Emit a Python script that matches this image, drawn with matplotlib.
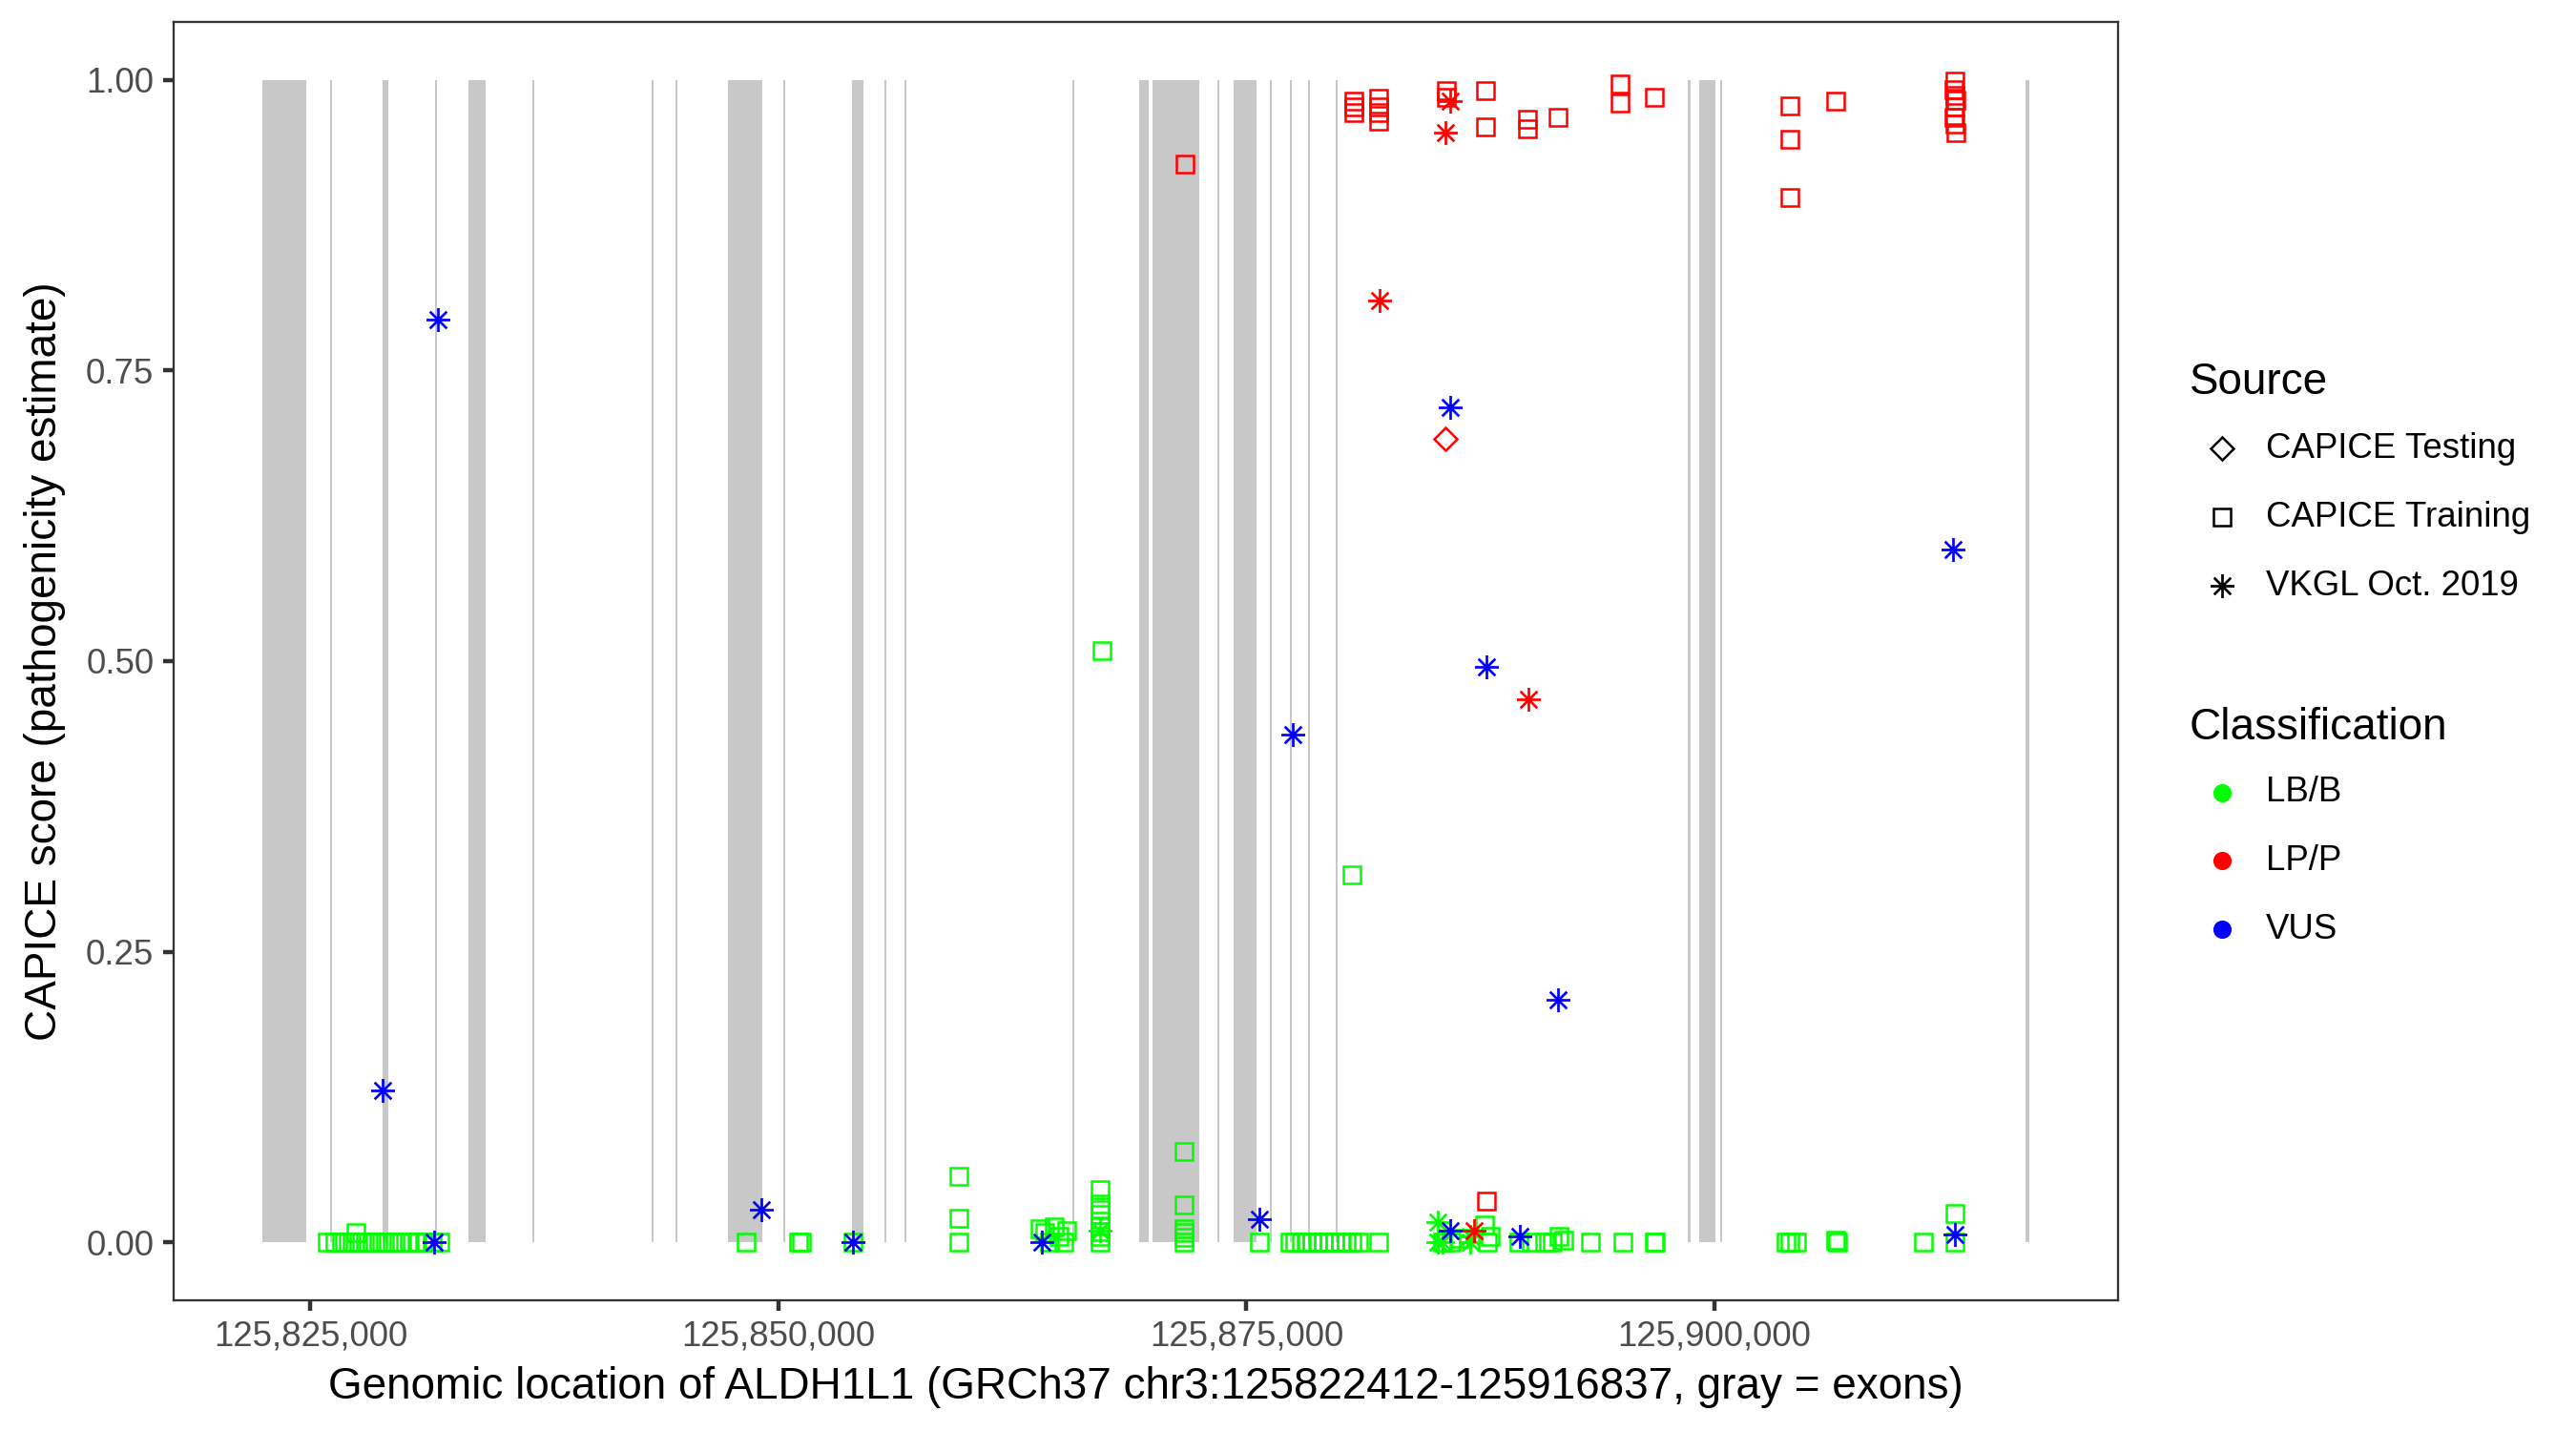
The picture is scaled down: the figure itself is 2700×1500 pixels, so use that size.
import numpy as np
import matplotlib
matplotlib.use("Agg")
import matplotlib.pyplot as plt
from matplotlib.path import Path
from matplotlib.ticker import FuncFormatter

plt.rcParams['font.family'] = ['Liberation Sans', 'DejaVu Sans']

# gene and exons (GRCh37 chr3)
gene_start = 125822412
gene_end = 125916837
exon_start = [125822412, 125826040, 125828830, 125831670, 125833439, 125836850,
              125843230, 125844500, 125847290, 125850270, 125853944, 125855670,
              125856740, 125865690, 125869291, 125869973, 125873450, 125874291,
              125876240, 125877310, 125878290, 125879760, 125898550, 125899196,
              125900310, 125916620]
exon_end = [125824786, 125826130, 125829146, 125831760, 125834370, 125836940,
            125843320, 125844590, 125849157, 125850360, 125854554, 125855760,
            125856830, 125865780, 125869794, 125872465, 125873540, 125875548,
            125876330, 125877400, 125878380, 125879850, 125898720, 125900030,
            125900400, 125916837]

# CAPICE Training, LB/B
train_lbb_pos = [125825921, 125826328, 125826684, 125827040, 125827396, 125827450,
                 125827752, 125828108, 125828464, 125828820, 125829177, 125829533,
                 125829889, 125830295, 125830702, 125831109, 125831516, 125831923,
                 125848267, 125851100, 125851250, 125853964, 125859641, 125859641,
                 125859641, 125863970, 125864224, 125864479, 125864733, 125864988,
                 125865242, 125865394, 125867175, 125867175, 125867175, 125867175,
                 125867175, 125867175, 125867175, 125867175, 125867302, 125871677,
                 125871677, 125871677, 125871677, 125871677, 125871677, 125875670,
                 125877298, 125877600, 125877910, 125878210, 125878520, 125878820,
                 125879130, 125879430, 125879740, 125880040, 125880350, 125880650,
                 125881010, 125880616, 125882054, 125885487, 125885945, 125886352,
                 125887726, 125887878, 125888031, 125889552, 125890233, 125890930,
                 125891337, 125891693, 125891947, 125893367, 125895111, 125896780,
                 125896850, 125903800, 125904054, 125904410, 125906496, 125906598,
                 125911155, 125912870, 125912870]
train_lbb_score = [0, 0, 0, 0, 0, 0.008,
                   0, 0, 0, 0, 0, 0,
                   0, 0, 0, 0, 0, 0,
                   0, 0, 0, 0, 0.057, 0.021,
                   0, 0.012, 0.008, 0, 0.013, 0.005,
                   0, 0.010, 0.045, 0.033, 0.028, 0.024,
                   0.014, 0.009, 0.005, 0, 0.509, 0.078,
                   0.032, 0.012, 0.008, 0.004, 0, 0,
                   0, 0, 0, 0, 0, 0,
                   0, 0, 0, 0, 0, 0,
                   0, 0.316, 0, 0, 0, 0.003,
                   0.015, 0, 0.005, 0, 0, 0,
                   0, 0.005, 0.002, 0, 0, 0,
                   0, 0, 0, 0, 0.002, 0,
                   0, 0.025, 0]

# CAPICE Training, LP/P
train_lpp_pos = [125871722, 125880716, 125880716, 125880716, 125882054, 125882054,
                 125882054, 125882054, 125885691, 125885691, 125887756, 125887756,
                 125890004, 125890004, 125891642, 125894949, 125894949, 125896770,
                 125904039, 125904039, 125904039, 125906480, 125912854, 125912780,
                 125912854, 125912900, 125912854, 125912780, 125912854, 125912900,
                 125887822]
train_lpp_score = [0.928, 0.982, 0.977, 0.972, 0.984, 0.977,
                   0.972, 0.965, 0.991, 0.985, 0.991, 0.960,
                   0.966, 0.958, 0.968, 0.997, 0.980, 0.985,
                   0.978, 0.949, 0.899, 0.982, 0.999, 0.992,
                   0.987, 0.983, 0.977, 0.968, 0.962, 0.955,
                   0.035]

# CAPICE Testing, LP/P
test_lpp_pos = [125885609]
test_lpp_score = [0.691]

# VKGL Oct. 2019
vkgl_lbb_pos = [125885233, 125885233, 125885500, 125886937, 125886937, 125867175]
vkgl_lbb_score = [0.017, 0.0, 0.0, 0.005, 0.0, 0.010]
vkgl_lpp_pos = [125882105, 125885650, 125885900, 125890076, 125887166]
vkgl_lpp_score = [0.810, 0.955, 0.982, 0.467, 0.010]
vkgl_vus_pos = [125831822, 125828846, 125831602, 125849111, 125853964, 125864046,
                125875695, 125877462, 125885872, 125885869, 125887799, 125889597,
                125891653, 125912765, 125912870]
vkgl_vus_score = [0.794, 0.131, 0.0, 0.028, 0.0, 0.0,
                  0.020, 0.437, 0.718, 0.010, 0.495, 0.005,
                  0.209, 0.596, 0.007]

green = '#00ff00'
red = '#ff0000'
blue = '#0000ff'

# 8-armed asterisk like R pch 8
verts = []
codes = []
for a in np.deg2rad([0, 45, 90, 135]):
    verts += [(np.cos(a), np.sin(a)), (-np.cos(a), -np.sin(a))]
    codes += [Path.MOVETO, Path.LINETO]
star = Path(verts, codes)

sq_kw = dict(ls='none', marker='s', ms=4.3, mew=0.6, mfc='none')
st_kw = dict(ls='none', marker=star, ms=6.0, mew=0.65, mfc='none')
di_kw = dict(ls='none', marker='D', ms=4.0, mew=0.6, mfc='none')

fig = plt.figure(figsize=(9, 5), dpi=300)
ax = fig.add_axes([0.0674, 0.0913, 0.7548, 0.8934])

span = gene_end - gene_start
ax.set_xlim(gene_start - 0.05 * span, gene_end + 0.05 * span)
ax.set_ylim(-0.05, 1.05)

widths = [e - s for s, e in zip(exon_start, exon_end)]
ax.bar(exon_start, [1] * len(exon_start), width=widths, bottom=0, align='edge',
       color='#c8c8c8', linewidth=0, zorder=1)

ax.plot(train_lbb_pos, train_lbb_score, mec=green, zorder=3, **sq_kw)
ax.plot(train_lpp_pos, train_lpp_score, mec=red, zorder=3, **sq_kw)
ax.plot(vkgl_lbb_pos, vkgl_lbb_score, mec=green, zorder=4, **st_kw)
ax.plot(vkgl_lpp_pos, vkgl_lpp_score, mec=red, zorder=4, **st_kw)
ax.plot(vkgl_vus_pos, vkgl_vus_score, mec=blue, zorder=4, **st_kw)
ax.plot(test_lpp_pos, test_lpp_score, mec=red, zorder=5, **di_kw)

ax.set_xticks([125825000, 125850000, 125875000, 125900000])
ax.xaxis.set_major_formatter(FuncFormatter(lambda v, p: f'{int(v):,}'))
ax.set_yticks([0, 0.25, 0.5, 0.75, 1.0])
ax.set_yticklabels(['0.00', '0.25', '0.50', '0.75', '1.00'])
ax.tick_params(length=2.75, width=1.07, color='#333333', labelcolor='#4d4d4d',
               labelsize=8.8, pad=2.2)
for s in ax.spines.values():
    s.set_color('#333333')
    s.set_linewidth(0.55)

ax.set_xlabel('Genomic location of ALDH1L1 (GRCh37 chr3:125822412-125916837, gray = exons)',
              fontsize=11, labelpad=3.3)
ax.set_ylabel('CAPICE score (pathogenicity estimate)', fontsize=11, labelpad=5.0)

# legends, drawn in pixel coordinates of the figure
leg = fig.add_axes([0, 0, 1, 1], facecolor='none')
leg.set_xlim(0, 2700)
leg.set_ylim(1500, 0)
leg.axis('off')

leg.text(2295, 401, 'Source', fontsize=11, va='center', ha='left')
src_labels = ['CAPICE Testing', 'CAPICE Training', 'VKGL Oct. 2019']
src_kw = [di_kw, sq_kw, st_kw]
src_y = [470, 542, 614]
for lab, kw, yy in zip(src_labels, src_kw, src_y):
    leg.plot([2329], [yy], mec='black', **kw)
    leg.text(2375, yy, lab, fontsize=8.8, va='center', ha='left')

leg.text(2295, 763, 'Classification', fontsize=11, va='center', ha='left')
cls_labels = ['LB/B', 'LP/P', 'VUS']
cls_colors = [green, red, blue]
cls_y = [831, 902, 974]
for lab, c, yy in zip(cls_labels, cls_colors, cls_y):
    leg.plot([2329], [yy], ls='none', marker='o', ms=4.6, color=c, mew=0)
    leg.text(2375, yy, lab, fontsize=8.8, va='center', ha='left')

fig.savefig('out.png', dpi=300, facecolor='white')
